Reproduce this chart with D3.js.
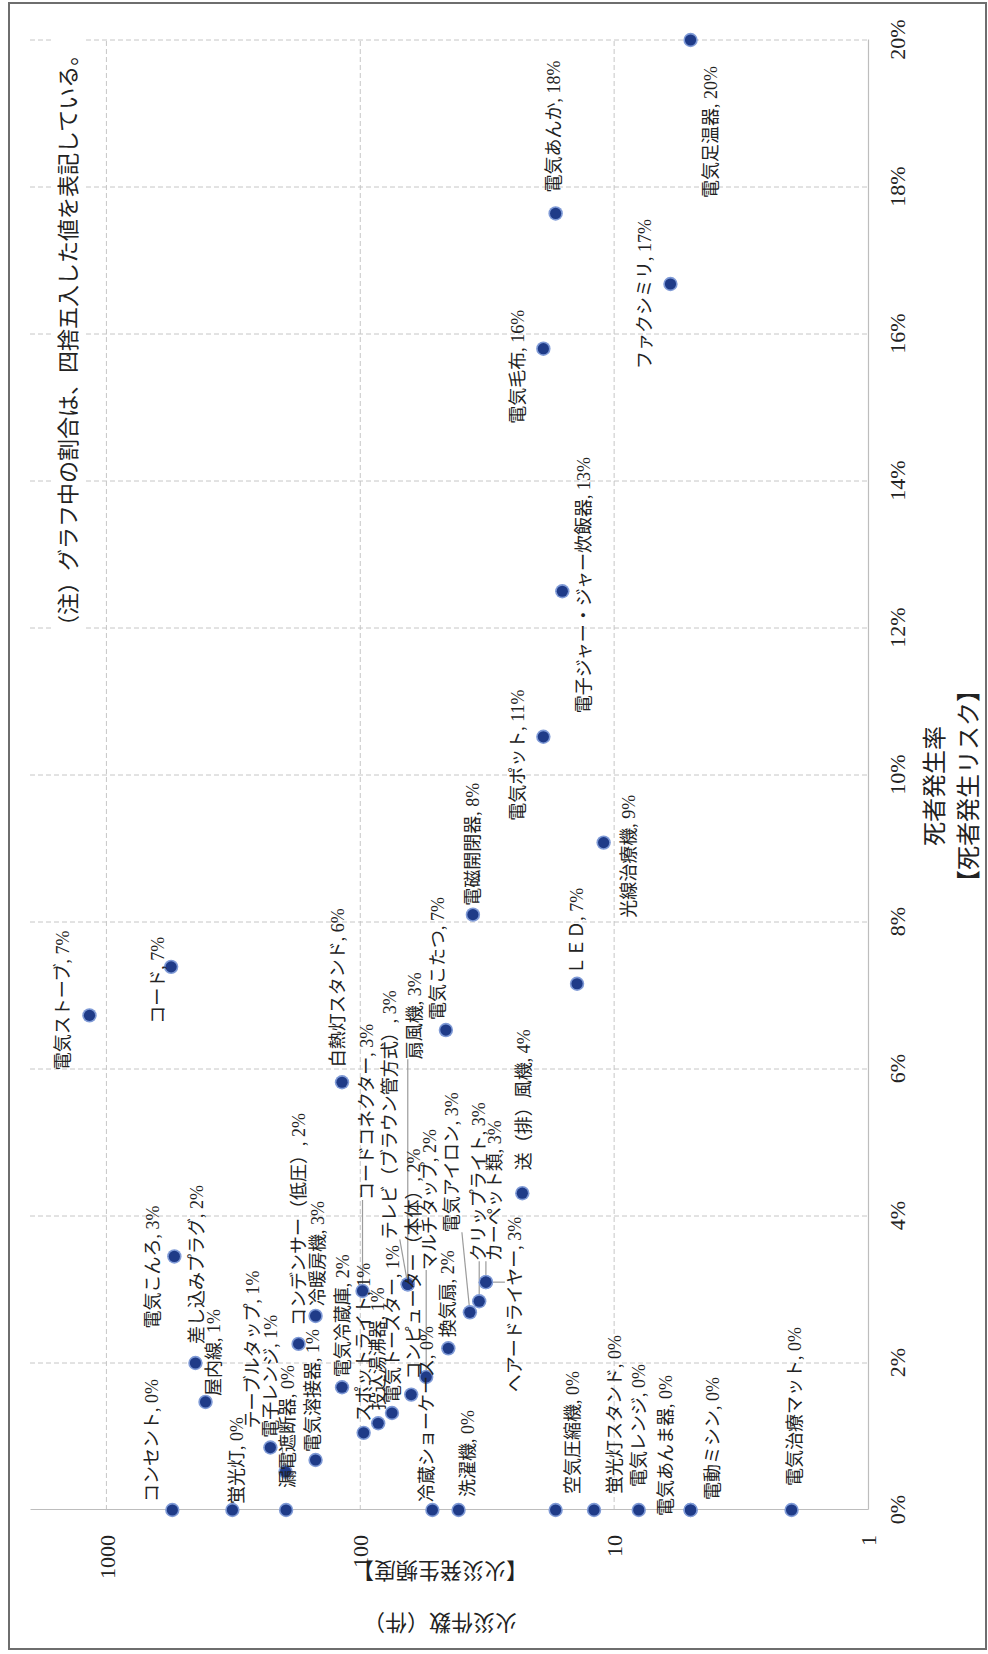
<!DOCTYPE html>
<html>
<head>
<meta charset="utf-8">
<script src="https://cdn.jsdelivr.net/npm/d3@7"></script>
<style>
  html, body { margin: 0; padding: 0; background: #fff; }
  svg { display: block; }
</style>
</head>
<body>
<svg id="chart" width="988" height="1654"></svg>
<script>
// Electrical product fires: number of fires (log) vs. death rate (%)
const products = [
  "電気足温器", "電気あんか", "ファクシミリ", "電気毛布", "電子ジャー・ジャー炊飯器",
  "電気ポット", "光線治療機", "ＬＥＤ", "電磁開閉器", "電気こたつ",
  "白熱灯スタンド", "コード", "電気ストーブ", "電気こんろ", "差し込みプラグ",
  "屋内線", "コンセント", "蛍光灯", "テーブルタップ", "電子レンジ",
  "漏電遮断器", "電気溶接器", "コンデンサー（低圧）", "冷暖房機", "電気冷蔵庫",
  "スポットライト", "投込湯沸器", "電気トースター", "コンピューター（本体）", "マルチタップ",
  "コードコネクター", "テレビ（ブラウン管方式）", "扇風機", "換気扇", "電気アイロン",
  "クリップライト", "カーペット類", "ヘアードライヤー", "送（排）風機", "冷蔵ショーケース",
  "洗濯機", "空気圧縮機", "蛍光灯スタンド", "電気レンジ", "電気あんま器",
  "電動ミシン", "電気治療マット"
];
// number of fires (件)
const fireCounts = [
  5, 17, 6, 19, 16,
  19, 11, 14, 36, 46,
  118, 556, 1166, 540, 446,
  407, 550, 319, 226, 197,
  196, 150, 175, 150, 118,
  97, 85, 75, 63, 55,
  98, 65, 65, 45, 37,
  34, 32, 32, 23, 52,
  41, 17, 12, 8, 5,
  5, 2
];
// death rate (%)
const deathRates = [
  20.0, 17.64, 16.68, 15.8, 12.5,
  10.52, 9.08, 7.16, 8.1, 6.53,
  5.82, 7.39, 6.73, 3.45, 2.0,
  1.47, 0, 0, 0.85, 0.52,
  0, 0.68, 2.26, 2.64, 1.67,
  1.05, 1.18, 1.32, 1.57, 1.81,
  2.98, 3.07, 3.07, 2.2, 2.69,
  2.84, 3.1, 3.1, 4.31, 0,
  0, 0, 0, 0, 0,
  0, 0
];
const rateTicks = [0, 2, 4, 6, 8, 10, 12, 14, 16, 18, 20];
const countTicks = [1, 10, 100, 1000];

// hand-placed data label offsets [along rate axis, across, leader line?]
const labelShift = [
  [-158, 20], [21, -2], [-85, -25], [-75, -25], [-122, 22],
  [-84, -25], [-75, 25], [9, 0], [9, 0], [10, -8],
  [15, -4], [-57, -13], [-55, -26], [-72, -21], [19, 2],
  [6, 8], [8, -20], [6, 5], [19, -17], [34, -15, 1],
  [22, 2], [8, -3], [18, 0], [10, 2], [10, 1],
  [11, 0], [13, 0], [10, 1], [15, 3], [107, 4, 1],
  [91, 4, 1], [45, -18, 1], [225, 7, 1], [11, 0], [80, -18, 1],
  [40, 0, 1], [21, 9, 1], [-110, 29, 1], [23, 2], [8, -5],
  [13, 9], [16, 17], [16, 21], [23, 0], [-6, -25],
  [10, 22], [24, 3]
];

const W = 988, H = 1654;
const serif = '"Liberation Serif", "Noto Sans CJK JP", serif';

const svg = d3.select("#chart");

// outer frame
svg.append("rect")
  .attr("x", 9).attr("y", 3).attr("width", 977).attr("height", 1646)
  .attr("fill", "none").attr("stroke", "#6e6e6e").attr("stroke-width", 2);

// the chart is laid out landscape and turned a quarter turn
const g = svg.append("g").attr("transform", `translate(0,${H}) rotate(-90)`);

const x = d3.scaleLinear().domain([0, 20]).range([144, 1614]);
const y = d3.scaleLog().domain([1, 2000]).range([868, 30]);

// gridlines
const grid = g.append("g").attr("stroke", "#c6c6c6").attr("stroke-width", 1)
  .attr("stroke-dasharray", "5 3");
grid.selectAll("line.gv").data(rateTicks.filter(t => t > 0)).join("line")
  .attr("class", "gv")
  .attr("x1", d => x(d)).attr("x2", d => x(d))
  .attr("y1", y(2000)).attr("y2", y(1));
grid.selectAll("line.gh").data(countTicks.filter(c => c > 1)).join("line")
  .attr("class", "gh")
  .attr("x1", x(0)).attr("x2", x(20))
  .attr("y1", d => y(d)).attr("y2", d => y(d));

// note box
const note = g.append("g");
const noteText = note.append("text")
  .attr("x", 1017).attr("y", 68)
  .attr("dominant-baseline", "central")
  .attr("font-family", serif).attr("font-size", 22).attr("fill", "#222")
  .text("（注）グラフ中の割合は、四捨五入した値を表記している。");
const nb = noteText.node().getBBox();
note.insert("rect", "text")
  .attr("x", nb.x - 6).attr("y", nb.y - 4)
  .attr("width", nb.width + 12).attr("height", nb.height + 8)
  .attr("fill", "#fff");

// axes
const xAxis = g.append("g").attr("transform", "translate(0,868)")
  .call(d3.axisBottom(x).tickValues(rateTicks).tickFormat(d => d + "%")
    .tickSize(0).tickPadding(21));
const yAxis = g.append("g").attr("transform", "translate(144,0)")
  .call(d3.axisLeft(y).tickValues(countTicks).tickFormat(d3.format("d"))
    .tickSize(0).tickPadding(25));
[xAxis, yAxis].forEach(a => {
  a.select(".domain").attr("stroke", "#bdbdbd").attr("stroke-width", 1.2);
  a.selectAll("text").attr("font-family", serif).attr("font-size", 22).attr("fill", "#222");
});
yAxis.selectAll("text").attr("dy", "0.35em");

// axis titles
const xTitle = g.append("g").attr("font-family", serif).attr("font-size", 24)
  .attr("fill", "#222").attr("text-anchor", "middle");
xTitle.append("text").attr("x", 868).attr("y", 935)
  .attr("dominant-baseline", "central").text("死者発生率");
xTitle.append("text").attr("x", 868).attr("y", 969)
  .attr("dominant-baseline", "central").text("【死者発生リスク】");

const yTitle = g.append("g").attr("font-family", serif).attr("font-size", 22)
  .attr("fill", "#222").attr("text-anchor", "middle");
yTitle.append("text").attr("transform", "translate(32,440) rotate(-90)")
  .attr("dominant-baseline", "central").text("火災件数（件）");
yTitle.append("text").attr("transform", "translate(84,440) rotate(-90)")
  .attr("dominant-baseline", "central").text("【火災発生頻度】");

// points
const points = products.map((name, i) => ({
  name, count: fireCounts[i], rate: deathRates[i], shift: labelShift[i]
}));

const leaderLayer = g.append("g");
const dotLayer = g.append("g");
const labelLayer = g.append("g");

dotLayer.selectAll("circle.halo").data(points).join("circle")
  .attr("class", "halo")
  .attr("cx", d => x(d.rate)).attr("cy", d => y(d.count))
  .attr("r", 7.2).attr("fill", "#7f9ad6");
dotLayer.selectAll("circle.core").data(points).join("circle")
  .attr("class", "core")
  .attr("cx", d => x(d.rate)).attr("cy", d => y(d.count))
  .attr("r", 5.6).attr("fill", "#1f3b88");

const labels = labelLayer.selectAll("text").data(points).join("text")
  .attr("x", d => x(d.rate) + d.shift[0])
  .attr("y", d => y(d.count) + d.shift[1])
  .attr("dominant-baseline", "central")
  .attr("font-family", serif).attr("font-size", 18).attr("fill", "#222")
  .text(d => `${d.name}, ${Math.round(d.rate)}%`);

// leader lines from a dot to the nearest edge of its label
labels.each(function (d) {
  if (!d.shift[2]) return;
  const b = this.getBBox();
  const cx = x(d.rate), cy = y(d.count);
  const px = Math.max(b.x, Math.min(cx, b.x + b.width));
  const py = Math.max(b.y, Math.min(cy, b.y + b.height));
  leaderLayer.append("line")
    .attr("x1", cx).attr("y1", cy).attr("x2", px).attr("y2", py)
    .attr("stroke", "#9b9b9b").attr("stroke-width", 1.2);
});
</script>
</body>
</html>
